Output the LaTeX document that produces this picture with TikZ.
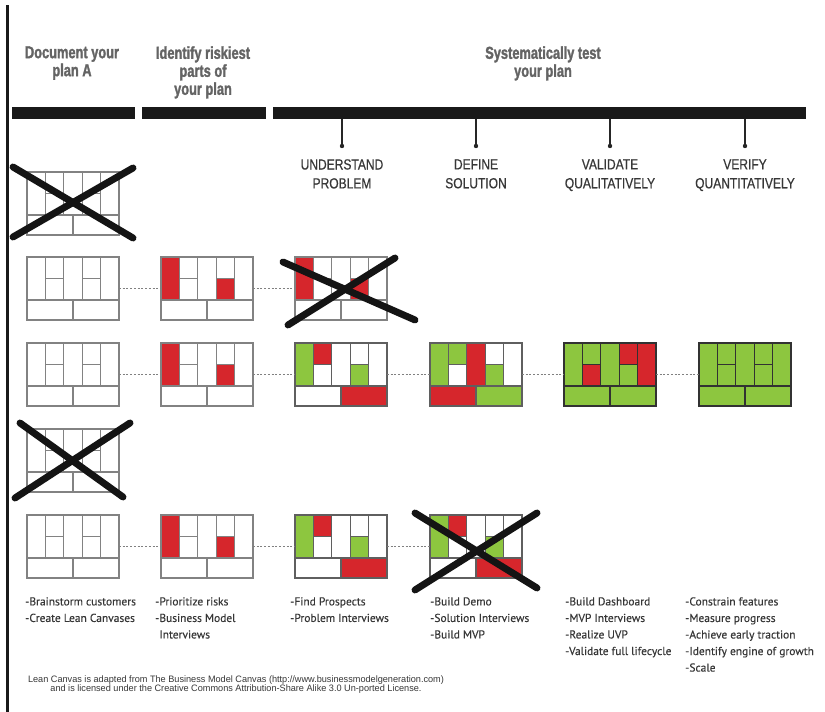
\documentclass[tikz,border=0pt]{standalone}
\usepackage{fontspec}
\newfontfamily\hdfont[FakeStretch=0.74,FakeBold=1.6]{Liberation Sans}
\newfontfamily\stfont[FakeStretch=0.82,FakeBold=0.5]{Liberation Sans}
\newfontfamily\lsfont[FakeBold=0.3]{PT Sans}
\newfontfamily\ftfont[FakeStretch=0.98]{Liberation Sans}
\definecolor{cred}{RGB}{214,38,44}
\definecolor{cgrn}{RGB}{141,198,63}
\definecolor{lgray}{RGB}{130,130,130}
\definecolor{mgray}{RGB}{95,95,95}
\definecolor{dgray}{RGB}{50,50,50}
\definecolor{hdgray}{RGB}{100,100,100}
\definecolor{txtgray}{RGB}{55,55,55}
\definecolor{barblack}{RGB}{25,25,25}

\def\setcols#1#2#3#4#5#6#7#8#9{\def\cA{#1}\def\cB{#2}\def\cC{#3}\def\cD{#4}\def\cE{#5}\def\cF{#6}\def\cG{#7}\def\cH{#8}\def\cI{#9}}
\def\pBlank{\setcols{white}{white}{white}{white}{white}{white}{white}{white}{white}\def\cL{lgray}}
\def\pRisk{\setcols{cred}{white}{white}{white}{white}{cred}{white}{white}{white}\def\cL{lgray}}
\def\pProb{\setcols{cgrn}{cred}{white}{white}{white}{cgrn}{white}{white}{cred}\def\cL{mgray}}
\def\pSol{\setcols{cgrn}{cgrn}{white}{cred}{white}{cgrn}{white}{cred}{cgrn}\def\cL{mgray}}
\def\pVal{\setcols{cgrn}{cgrn}{cred}{cgrn}{cred}{cgrn}{cred}{cgrn}{cgrn}\def\cL{dgray}}
\def\pVer{\setcols{cgrn}{cgrn}{cgrn}{cgrn}{cgrn}{cgrn}{cgrn}{cgrn}{cgrn}\def\cL{dgray}}

\newcommand\lcanvas[4]{#4%
 \begin{scope}[shift={(#2,#3)}]
  \fill[\cA] (0,0) rectangle (18.4,43);
  \fill[\cB] (18.4,0) rectangle (36.8,21.5);
  \fill[\cC] (18.4,21.5) rectangle (36.8,43);
  \fill[\cD] (36.8,0) rectangle (55.2,43);
  \fill[\cE] (55.2,0) rectangle (73.6,21.5);
  \fill[\cF] (55.2,21.5) rectangle (73.6,43);
  \fill[\cG] (73.6,0) rectangle (92,43);
  \fill[\cH] (0,43) rectangle (46,63);
  \fill[\cI] (46,43) rectangle (92,63);
  \draw[cvline,draw=\cL] (18.4,0)--(18.4,43) (36.8,0)--(36.8,43) (55.2,0)--(55.2,43)
     (73.6,0)--(73.6,43) (18.4,21.5)--(36.8,21.5) (55.2,21.5)--(73.6,21.5)
     (0,43)--(92,43) (46,43)--(46,63);
  \node[cv,draw=\cL] (#1) at (46,31.5) {};
 \end{scope}}

\begin{document}
\begin{tikzpicture}[x=0.75pt,y=-0.75pt,
  cv/.style={rectangle,minimum width=69pt,minimum height=47.25pt,inner sep=0pt,outer sep=0pt,line width=0.9pt},
  cvline/.style={line width=0.9pt},
  crossx/.style={line width=5.2pt,line cap=round,draw=black!92},
  dotline/.style={draw=gray,line width=0.8pt,dash pattern=on 1.5pt off 1.3pt},
  barnode/.style={rectangle,fill=barblack,inner sep=0pt,outer sep=0pt,minimum height=9pt,anchor=north west},
  tick/.style={draw=black!85,line width=1.4pt},
  hdtext/.style={inner sep=0pt,align=center,anchor=north,text=hdgray,font=\hdfont\bfseries\fontsize{13}{13.5}\selectfont},
  sttext/.style={inner sep=0pt,align=center,anchor=north,text=txtgray,font=\stfont\fontsize{11}{14.2}\selectfont},
  lstext/.style={inner sep=0pt,align=left,anchor=north west,text=txtgray,font=\lsfont\fontsize{8.6}{12.4}\selectfont},
  fttext/.style={inner sep=0pt,align=center,anchor=north,text=txtgray,font=\ftfont\fontsize{7}{6.8}\selectfont}]
\useasboundingbox (0,0) rectangle (825,712);
\fill[white] (0,0) rectangle (825,712);

% left rule
\fill[barblack] (5.5,5) rectangle (8.5,712);

% headers
\node[hdtext] (h1) at (72,46) {Document your\\plan A};
\node[hdtext] (h2) at (203,46) {Identify riskiest\\parts of\\your plan};
\node[hdtext] (h3) at (543,46) {Systematically test\\your plan};

% bars
\node[barnode,minimum width=92.25pt] (bar1) at (12,107) {};
\node[barnode,minimum width=93pt] (bar2) at (142,107) {};
\node[barnode,minimum width=399.75pt] (bar3) at (273,107) {};

% ticks and stage labels
\foreach \n/\xx in {1/342,2/476,3/610,4/745}{
  \coordinate (t\n) at (\xx,146);
  \draw[tick] (bar3.south -| t\n) -- (t\n);
  \fill[black!85] (t\n) circle (2.2);
}
\node[sttext] (s1) at (342,159) {UNDERSTAND\\PROBLEM};
\node[sttext] (s2) at (476,159) {DEFINE\\SOLUTION};
\node[sttext] (s3) at (610,159) {VALIDATE\\QUALITATIVELY};
\node[sttext] (s4) at (745,159) {VERIFY\\QUANTITATIVELY};

% row 1
\lcanvas{r1a}{27}{172}{\pBlank}
% row 2
\lcanvas{r2a}{27}{257}{\pBlank}
\lcanvas{r2b}{161}{257}{\pRisk}
\lcanvas{r2c}{295}{257}{\pRisk}
% row 3
\lcanvas{r3a}{27}{343}{\pBlank}
\lcanvas{r3b}{161}{343}{\pRisk}
\lcanvas{r3c}{295}{343}{\pProb}
\lcanvas{r3d}{430}{343}{\pSol}
\lcanvas{r3e}{564}{343}{\pVal}
\lcanvas{r3f}{699}{343}{\pVer}
% row 4
\lcanvas{r4a}{27}{429}{\pBlank}
% row 5
\lcanvas{r5a}{27}{515}{\pBlank}
\lcanvas{r5b}{161}{515}{\pRisk}
\lcanvas{r5c}{295}{515}{\pProb}
\lcanvas{r5d}{430}{515}{\pProb}

% dotted connectors
\draw[dotline] (r2a.east) -- (r2b.west);
\draw[dotline] (r2b.east) -- (r2c.west);
\draw[dotline] (r3a.east) -- (r3b.west);
\draw[dotline] (r3b.east) -- (r3c.west);
\draw[dotline] (r3c.east) -- (r3d.west);
\draw[dotline] (r3d.east) -- (r3e.west);
\draw[dotline] (r3e.east) -- (r3f.west);
\draw[dotline] (r5a.east) -- (r5b.west);
\draw[dotline] (r5b.east) -- (r5c.west);
\draw[dotline] (r5c.east) -- (r5d.west);

% crosses
\draw[crossx] (13,167) -- (133,238);
\draw[crossx] (13,237) -- (133,168);
\draw[crossx] (283,262) -- (415,320);
\draw[crossx] (288,325) -- (395,258);
\draw[crossx] (15,498) -- (130,423);
\draw[crossx] (20,423) -- (123,497);
\draw[crossx] (415,513) -- (537,588);
\draw[crossx] (415,590) -- (537,513);

% lists
\node[lstext] (l1) at (25,597) {-Brainstorm customers\\-Create Lean Canvases};
\node[lstext] (l2) at (155,597) {-Prioritize risks\\-Business Model\\\phantom{-}Interviews};
\node[lstext] (l3) at (290,597) {-Find Prospects\\-Problem Interviews};
\node[lstext] (l4) at (430,597) {-Build Demo\\-Solution Interviews\\-Build MVP};
\node[lstext] (l5) at (565,597) {-Build Dashboard\\-MVP Interviews\\-Realize UVP\\-Validate full lifecycle};
\node[lstext] (l6) at (685,597) {-Constrain features\\-Measure progress\\-Achieve early traction\\-Identify engine of growth\\-Scale};

% footer
\node[fttext] (ft) at (236,675) {Lean Canvas is adapted from The Business Model Canvas (http://www.businessmodelgeneration.com)\\and is licensed under the Creative Commons Attribution-Share Alike 3.0 Un-ported License.};
\end{tikzpicture}
\end{document}
